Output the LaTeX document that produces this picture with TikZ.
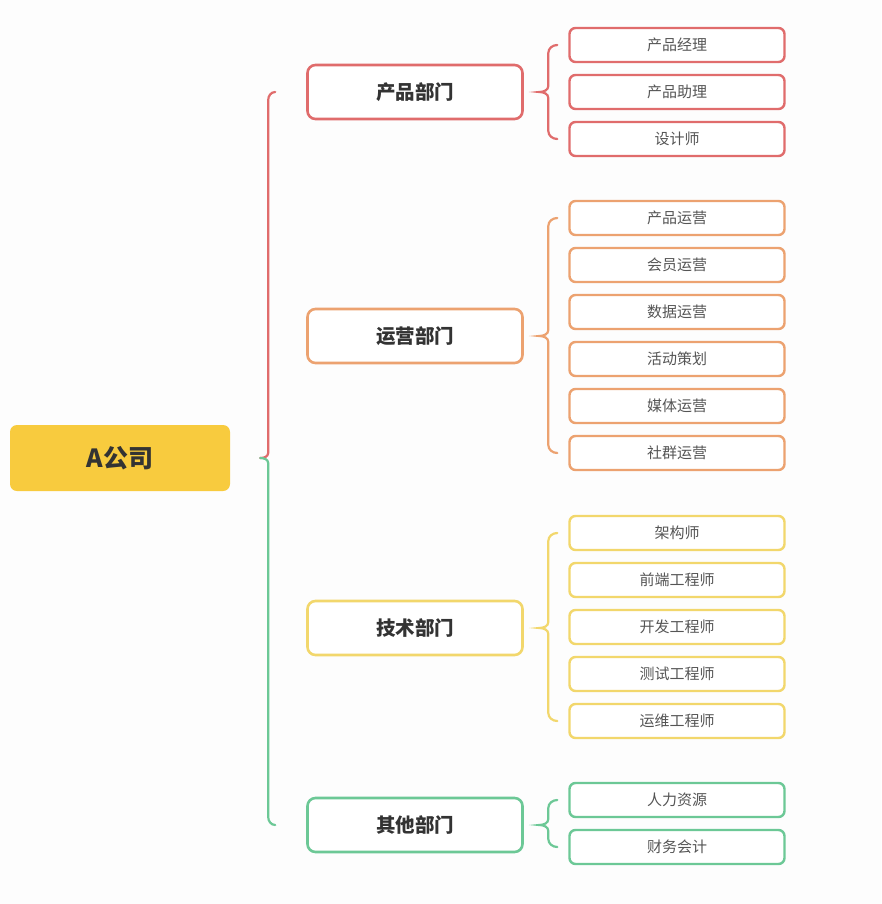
\documentclass[tikz,border=0pt]{standalone}
\usepackage{fontspec}
\setmainfont{Noto Sans CJK SC}
\usepackage{tikz}
\usetikzlibrary{calc,positioning}
\usepackage{xcolor}
\definecolor{rootyellow}{RGB}{248,203,62}
\definecolor{deptred}{RGB}{224,108,108}
\definecolor{deptorange}{RGB}{236,162,112}
\definecolor{deptyellow}{RGB}{242,215,108}
\definecolor{deptgreen}{RGB}{108,200,150}
\definecolor{inkgrey}{RGB}{51,51,51}
\definecolor{leafgrey}{RGB}{85,85,85}
\definecolor{paper}{RGB}{253,253,253}

\begin{document}
\begin{tikzpicture}[x=1pt, y=-1pt,
    root/.style={fill=rootyellow, rounded corners=7pt, minimum width=220pt,
      minimum height=66pt, text=inkgrey, font=\fontsize{25}{28}\selectfont\bfseries},
    dept/.style={fill=white, line width=2.6pt, rounded corners=8pt, minimum width=215pt,
      minimum height=54pt, text=inkgrey, font=\fontsize{19.5}{22}\selectfont\bfseries},
    leaf/.style={fill=white, line width=2.4pt, rounded corners=6pt, minimum width=215pt,
      minimum height=34pt, text=leafgrey, font=\fontsize{15}{17}\selectfont},
    brc/.style={line width=2.2pt, line cap=round}]
        \useasboundingbox[fill=paper] (0,0) rectangle (881,904);
        % Company
        \node[root] (root) at (120,458) {A公司};
        % Departments
        \node[dept,draw=deptred] (d1) at (415,92) {产品部门};
        \node[dept,draw=deptorange] (d2) at (415,336) {运营部门};
        \node[dept,draw=deptyellow] (d3) at (415,628) {技术部门};
        \node[dept,draw=deptgreen] (d4) at (415,825) {其他部门};
        % Positions
        \foreach \t [count=\i] in {产品经理,产品助理,设计师}
          \node[leaf,draw=deptred] (p\i) at (677,{45+47*(\i-1)}) {\t};
        \foreach \t [count=\i] in {产品运营,会员运营,数据运营,活动策划,媒体运营,社群运营}
          \node[leaf,draw=deptorange] (o\i) at (677,{218+47*(\i-1)}) {\t};
        \foreach \t [count=\i] in {架构师,前端工程师,开发工程师,测试工程师,运维工程师}
          \node[leaf,draw=deptyellow] (t\i) at (677,{533+47*(\i-1)}) {\t};
        \foreach \t [count=\i] in {人力资源,财务会计}
          \node[leaf,draw=deptgreen] (e\i) at (677,{800+47*(\i-1)}) {\t};
        % Braces: department -> positions
        \foreach \a/\b/\d/\c in {p1/p3/d1/deptred,o1/o6/d2/deptorange,
                                 t1/t5/d3/deptyellow,e1/e2/d4/deptgreen}{
          \draw[brc,\c] ($(\a.west)+(-11,0)$) to[out=180,in=90] ($(\a.west)+(-20,8)$)
            -- ($(\d.east -| \a.west)+(-20,-6)$) to[out=-90,in=0] ($(\d.east -| \a.west)+(-29,0)$)
            to[out=0,in=90] ($(\d.east -| \a.west)+(-20,6)$)
            -- ($(\b.west)+(-20,-8)$) to[out=-90,in=180] ($(\b.west)+(-11,0)$);
        }
        % Brace: company -> departments
        \draw[brc,deptred] ($(d1.west)+(-31,0)$) to[out=180,in=90] ($(d1.west)+(-38,8)$)
          -- ($(root.east -| d1.west)+(-38,-5)$) to[out=-90,in=0] ($(root.east -| d1.west)+(-46,0)$);
        \draw[brc,deptgreen] ($(root.east -| d1.west)+(-46,0)$) to[out=0,in=90] ($(root.east -| d1.west)+(-38,5)$)
          -- ($(d4.west)+(-38,-8)$) to[out=-90,in=180] ($(d4.west)+(-31,0)$);
      \end{tikzpicture}
\end{document}
